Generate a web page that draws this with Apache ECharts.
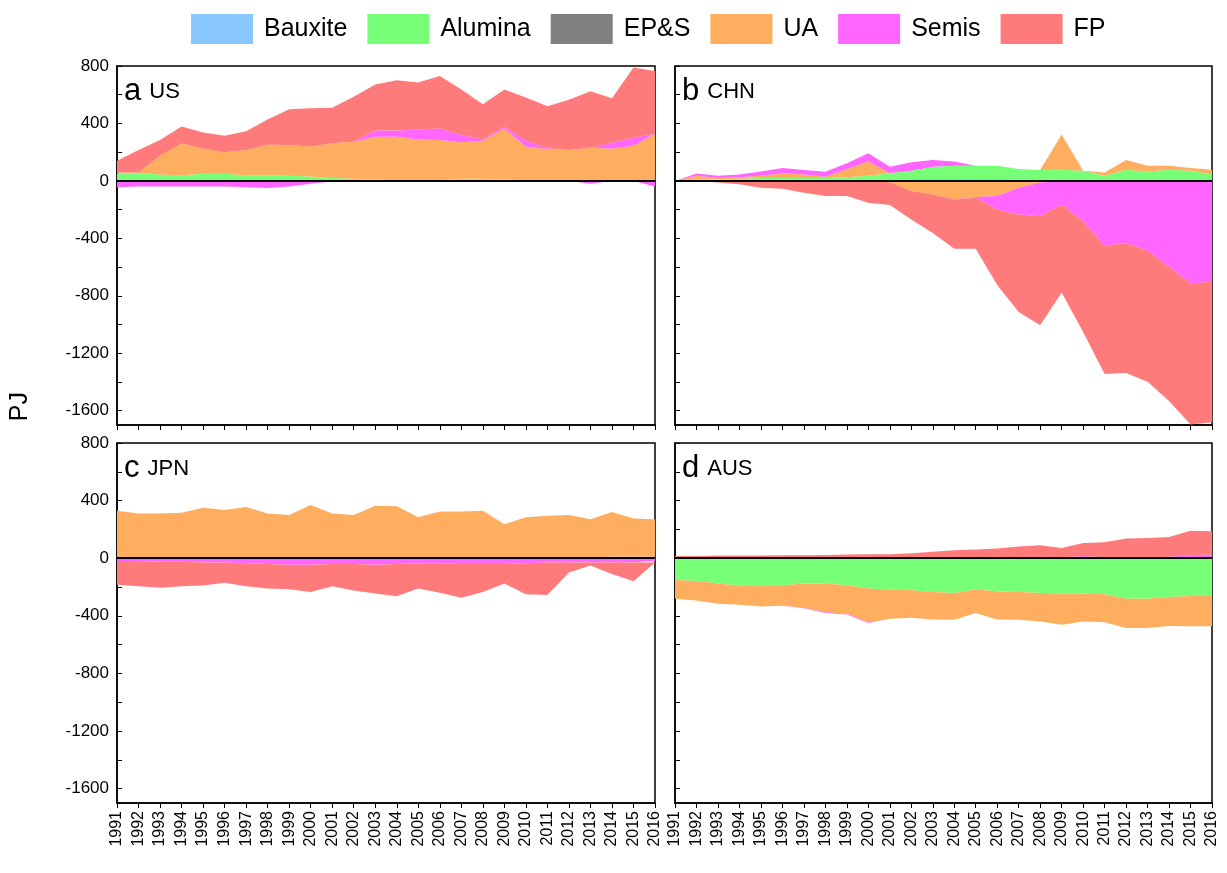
<!DOCTYPE html>
<html>
<head>
<meta charset="utf-8">
<script src="https://cdn.jsdelivr.net/npm/echarts@6/dist/echarts.min.js"></script>
<style>html,body{margin:0;padding:0;background:#fff}#main{width:1227px;height:873px}</style>
</head>
<body>
<div id="main"></div>
<script>
const years = ['1991','1992','1993','1994','1995','1996','1997','1998','1999','2000','2001','2002','2003','2004','2005','2006','2007','2008','2009','2010','2011','2012','2013','2014','2015','2016'];
const materials = ['Bauxite', 'Alumina', 'EP&S', 'UA', 'Semis', 'FP'];
const colors = ['#8ac6ff', '#77ff77', '#808080', '#ffad5e', '#ff66ff', '#ff7a7a'];
const yTicks = [-1600, -1200, -800, -400, 0, 400, 800];

const zeros = years.map(() => 0);

// US
const usAlumina = [50,55,45,40,50,50,40,40,35,30,20,15,10,5,5,5,15,15,10,5,5,5,5,5,5,5];
const usUA = [8,3,130,220,175,150,175,212,215,210,242,258,298,303,283,280,254,265,355,235,217,210,225,220,240,325];
const usSemis = [-45,-40,-40,-40,-40,-40,-45,-50,-40,-20,-5,0,42,42,69,80,53,7,13,40,5,0,-20,40,55,-40];
const usFP = [82,157,110,118,112,115,130,176,248,265,248,312,322,350,328,365,315,246,259,300,293,350,395,310,490,435];

// CHN
const chnAlumina = [0,10,10,15,20,20,20,20,25,35,55,70,98,105,105,105,82,75,77,70,35,77,65,77,70,47];
const chnUA = [0,25,10,10,15,34,25,8,57,100,-10,-70,-94,-129,-112,-105,-47,-12,246,0,23,68,40,28,19,30];
const chnSemis = [0,16,15,20,30,35,30,35,40,57,43,59,47,30,-5,-94,-187,-234,-164,-281,-452,-433,-487,-597,-714,-702];
const chnFP = [0,0,-12,-23,-47,-54,-82,-105,-105,-152,-158,-199,-269,-344,-356,-526,-679,-760,-613,-772,-893,-905,-912,-935,-982,-978];

// JPN
const jpnAlumina = [0,0,0,0,0,0,0,0,0,0,0,0,0,0,0,0,0,0,0,0,0,0,5,10,10,10];
const jpnUA = [330,310,310,315,350,335,355,310,300,370,310,300,365,360,285,325,325,330,235,285,295,300,265,310,265,260];
const jpnSemis = [-20,-20,-25,-25,-30,-30,-35,-40,-45,-45,-40,-40,-45,-40,-35,-35,-40,-40,-40,-35,-30,-30,-30,-30,-30,-20];
const jpnFP = [-165,-175,-180,-170,-160,-140,-160,-170,-170,-190,-155,-185,-200,-225,-175,-205,-235,-195,-135,-215,-225,-70,-20,-80,-130,-10];

// AUS
const ausAlumina = [-152,-159,-176,-190,-194,-187,-176,-176,-187,-211,-218,-222,-234,-241,-218,-229,-234,-241,-246,-246,-250,-281,-281,-269,-262,-262];
const ausUA = [-129,-134,-140,-133,-141,-143,-168,-199,-199,-234,-203,-192,-192,-187,-163,-197,-194,-199,-217,-194,-195,-203,-203,-201,-211,-211];
const ausSemis = [0,0,0,0,0,0,-3,-5,-5,-5,0,0,0,0,0,0,0,0,5,15,5,5,5,10,20,25];
const ausFP = [15,15,18,18,18,20,20,22,25,28,28,35,45,55,60,68,82,90,65,90,105,132,135,138,170,162];

const panels = [
  { tag: 'a', name: 'US', data: [zeros, usAlumina, zeros, usUA, usSemis, usFP] },
  { tag: 'b', name: 'CHN', data: [zeros, chnAlumina, zeros, chnUA, chnSemis, chnFP] },
  { tag: 'c', name: 'JPN', data: [zeros, jpnAlumina, zeros, jpnUA, jpnSemis, jpnFP] },
  { tag: 'd', name: 'AUS', data: [zeros, ausAlumina, zeros, ausUA, ausSemis, ausFP] }
];

const grids = [
  { left: 117, top: 66, width: 538, height: 359 },
  { left: 675, top: 66, width: 537, height: 359 },
  { left: 117, top: 443, width: 538, height: 360 },
  { left: 675, top: 443, width: 537, height: 360 }
];

const minorTicks = [];
for (let v = -1600; v <= 800; v += 200) minorTicks.push(v);

const font = 'Arial, Liberation Sans, sans-serif';

const option = {
  animation: false,
  textStyle: { fontFamily: font },
  color: colors,
  legend: {
    data: materials,
    top: 9,
    left: 186,
    itemWidth: 62,
    itemHeight: 30,
    itemGap: 20,
    icon: 'rect',
    textStyle: { fontSize: 25, color: '#000', padding: [0, 0, 0, 6] }
  },
  grid: grids.map(g => Object.assign({ show: true, borderColor: '#000', borderWidth: 1.5, containLabel: false }, g)),
  xAxis: grids.map((g, i) => ({
    type: 'category',
    gridIndex: i,
    data: years,
    boundaryGap: false,
    axisLine: { onZero: false, lineStyle: { color: '#000', width: 1.5 } },
    axisTick: { length: 5, interval: 0, lineStyle: { color: '#000' } },
    axisLabel: { show: i >= 2, rotate: 90, interval: 0, fontSize: 16, color: '#000' }
  })),
  yAxis: grids.map((g, i) => ({
    type: 'value',
    gridIndex: i,
    min: -1700,
    max: 800,
    interval: 100,
    splitLine: { show: false },
    axisLine: { show: true, lineStyle: { color: '#000', width: 1.5 } },
    axisTick: { show: true, inside: true, length: 5, customValues: minorTicks, lineStyle: { color: '#000' } },
    axisLabel: { show: i % 2 === 0, fontSize: 17, color: '#000', customValues: yTicks, formatter: v => String(v) }
  })),
  graphic: [
    {
      type: 'text', left: 8, top: 392, rotation: Math.PI / 2,
      style: { text: 'PJ', font: '25px ' + font, fill: '#000' }
    }
  ].concat(panels.map((p, i) => ({
    type: 'text',
    left: grids[i].left + 7,
    top: grids[i].top + 10,
    style: {
      text: '{a|' + p.tag + '}{b|' + p.name + '}',
      rich: {
        a: { fontSize: 31, fontFamily: font, fill: '#000', padding: [0, 8, 0, 0] },
        b: { fontSize: 22, fontFamily: font, fill: '#000' }
      }
    }
  }))),
  series: []
};

// positive and negative parts stacked separately so each side piles cleanly
panels.forEach((p, i) => {
  ['pos', 'neg'].forEach(side => {
    materials.forEach((m, j) => {
      option.series.push({
        name: m,
        type: 'line',
        xAxisIndex: i,
        yAxisIndex: i,
        stack: side + i,
        symbol: 'none',
        lineStyle: { width: 0 },
        areaStyle: { color: colors[j], opacity: 1 },
        data: p.data[j].map(v => side === 'pos' ? Math.max(v, 0) : Math.min(v, 0))
      });
    });
  });
  option.series[option.series.length - 1].markLine = {
    silent: true,
    symbol: 'none',
    label: { show: false },
    lineStyle: { color: '#000', width: 2, type: 'solid' },
    data: [{ yAxis: 0 }]
  };
});

const myChart = echarts.init(document.getElementById('main'));
myChart.setOption(option);
</script>
</body>
</html>
